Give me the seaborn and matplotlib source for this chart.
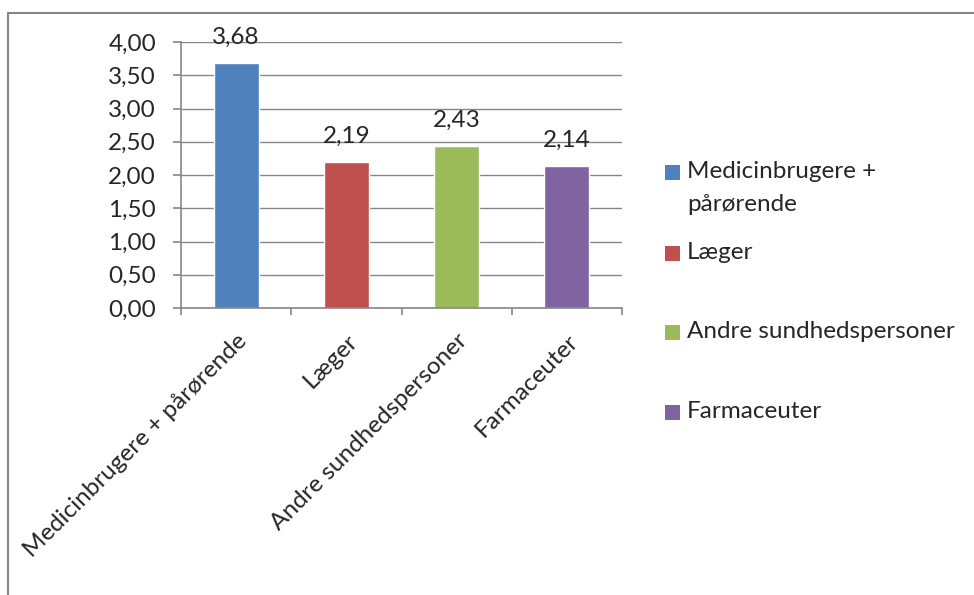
import matplotlib
matplotlib.use("Agg")
import matplotlib.pyplot as plt
import matplotlib.patches as mpatches
import seaborn as sns
import pandas as pd

categories = ["Medicinbrugere + pårørende", "Læger", "Andre sundhedspersoner", "Farmaceuter"]
legend_labels = [["Medicinbrugere +", "pårørende"], ["Læger"], ["Andre sundhedspersoner"], ["Farmaceuter"]]
values = [3.68, 2.19, 2.43, 2.14]
colors = ["#4F81BD", "#C0504D", "#9BBB59", "#8064A2"]
yticks = [0.0, 0.5, 1.0, 1.5, 2.0, 2.5, 3.0, 3.5, 4.0]

sns.set_style("white")
plt.rcParams['font.family'] = ['Lato', 'DejaVu Sans']
FS = 17.5

W, H = 974, 595
fig = plt.figure(figsize=(W / 100, H / 100), dpi=100)

# chart frame (left and top edges visible)
frame = mpatches.Rectangle((8 / W, -0.1), 1.2, (H - 13) / H + 0.1, transform=fig.transFigure,
                           fill=False, edgecolor="#868686", linewidth=1.5)
fig.add_artist(frame)

ax = fig.add_axes([181 / W, (H - 308) / H, (622 - 181) / W, (308 - 42) / H])

df = pd.DataFrame({"cat": categories, "val": values})
sns.barplot(data=df, x="cat", y="val", hue="cat", palette=colors, width=0.41,
            legend=False, ax=ax, saturation=1)

ax.set_ylim(0, 4)
ax.set_xlim(-0.5, 3.5)
ax.set_yticks(yticks)
ax.set_yticklabels([f"{t:.2f}".replace(".", ",") for t in yticks], fontsize=FS)
ax.set_xlabel("")
ax.set_ylabel("")
ax.grid(axis="y", color="#868686", linewidth=1)
ax.set_axisbelow(True)
for s in ["top", "right"]:
    ax.spines[s].set_visible(False)
for s in ["left", "bottom"]:
    ax.spines[s].set_color("#868686")
    ax.spines[s].set_linewidth(1.2)

ax.tick_params(axis="y", left=True, length=6, width=1.2, color="#868686", pad=12)
ax.set_xticks(range(len(categories)))
ax.set_xticklabels(categories, rotation=45, ha="right", va="top", rotation_mode="anchor",
                   fontsize=FS)
ax.tick_params(axis="x", which="major", length=0, pad=16)
ax.set_xticks([-0.5, 0.5, 1.5, 2.5, 3.5], minor=True)
ax.tick_params(axis="x", which="minor", bottom=True, length=5, width=1.2, color="#868686")

for i, v in enumerate(values):
    ax.annotate(f"{v:.2f}".replace(".", ","), xy=(i, v), xytext=(0, 11),
                textcoords="offset points", ha="center", va="bottom", fontsize=FS)

# legend (Excel style: swatch aligned to first text line)
legend_y = [172, 253, 332, 412]
for lines, col, yc in zip(legend_labels, colors, legend_y):
    sq = 15
    fig.add_artist(mpatches.Rectangle((665 / W, (H - yc - sq / 2) / H), sq / W, sq / H,
                                      transform=fig.transFigure, facecolor=col,
                                      edgecolor="none"))
    for k, line in enumerate(lines):
        fig.text(687 / W, (H - yc - 6 - 33 * k) / H, line, fontsize=FS, ha="left",
                 va="baseline", transform=fig.transFigure)

fig.savefig("out.png", dpi=100)
